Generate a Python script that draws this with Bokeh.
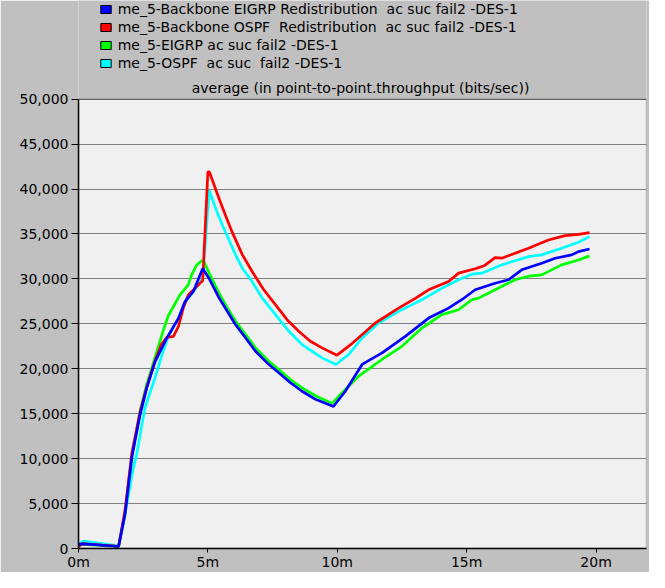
from bokeh.plotting import figure
from bokeh.models import (Legend, LegendItem, FixedTicker, NumeralTickFormatter, Range1d,
                          BoxAnnotation, Label)
from bokeh.embed import file_html
from bokeh.resources import INLINE

NAN = float("nan")

# ---- data (time in minutes, throughput in bits/sec) ----
blue_t = [0.0, 0.2, 1.55, 1.8, 2.06, 2.38, 2.64, 2.96, 3.41, 3.86, 4.12, 4.44, 4.8,
          5.04, 5.43, 5.75, 6.07, 6.46, 6.84, 7.29, 7.74, 8.19, 8.64, 9.16, 9.85,
          10.31, 10.96, 11.73, 12.63, 13.53, 14.3, 14.81, 15.33, 16.1, 16.62, 17.13,
          17.9, 18.42, 19.06, 19.32, 19.75]
blue_v = [450, 520, 220, 3850, 10100, 14900, 17900, 20800, 23400, 25600, 27500, 28600, 31150,
          30080, 27900, 26390, 24900, 23430, 21950, 20650, 19550, 18440, 17500, 16600, 15800,
          17500, 20480, 21760, 23600, 25640, 26750, 27680, 28790, 29520, 29900, 31010,
          31740, 32300, 32670, 33030, 33330]

red_t = [0.0, 0.15, 1.55, 1.8, 2.06, 2.38, 2.64, 2.96, 3.2, 3.41, 3.67, 3.86, 4.05, 4.24,
         4.69, 4.8, 5.0, 5.06, 5.43, 5.69, 5.94, 6.33, 6.71, 7.16, 7.61, 8.06, 8.51, 8.96,
         9.41, 9.99, 10.57, 11.0, 11.47, 12.37, 13.0, 13.53, 14.3, 14.69, 15.33, 15.7,
         16.1, 16.36, 16.87, 17.39, 18.16, 18.8, 19.32, 19.75]
red_v = [200, 550, 250, 4300, 10600, 15200, 18000, 20900, 22700, 23500, 23600, 24700, 26750, 28200,
         29500, 29800, 41900, 41900, 38950, 37000, 35200, 32700, 30820, 28790, 27130, 25460, 24170, 23060,
         22320, 21510, 22800, 23900, 25090, 26750, 27800, 28790, 29710, 30640, 31120, 31500,
         32370, 32300, 32850, 33400, 34330, 34810, 34960, 35140]

green_t = [0.0, 0.2, 1.55, 1.8, 2.06, 2.38, 2.64, 2.96, 3.09, 3.28, 3.47, 3.92, 4.24, 4.37,
           4.57, 4.75, 4.85, 5.04, 5.43, 5.75, 6.07, 6.46, 6.84, 7.29, 7.74, 8.19, 8.64, 9.16,
           9.8, 10.19, 10.83, 11.73, 12.5, 13.27, 14.04, 14.69, 15.2, 15.46, 16.1, 16.87,
           17.4, 17.9, 18.67, 19.32, 19.75]
green_v = [400, 460, 220, 4000, 10300, 15300, 18300, 21300, 22500, 24300, 25900, 28230, 29340, 30450,
           31560, 32000, 31930, 30700, 28420, 26800, 25280, 23800, 22320, 21000, 19920, 18800, 17880, 17000,
           16150, 17330, 19180, 21030, 22500, 24530, 26020, 26570, 27680, 27860, 28790, 29900,
           30300, 30450, 31560, 32110, 32560]

cyan_t = [0.0, 0.2, 1.55, 1.78, 2.12, 2.25, 2.57, 2.96, 3.2, 3.47, 3.86, 4.12, 4.44, 4.8,
          5.05, 5.3, 5.56, 6.07, 6.33, 6.71, 7.1, 7.61, 8.13, 8.64, 9.41, 9.95,
          10.44, 10.96, 11.6, 12.37, 13.27, 14.17, 14.69, 15.2, 15.59, 16.36, 17.39, 17.9,
          18.67, 19.32, 19.75]
cyan_v = [500, 820, 300, 3500, 9000, 10500, 15660, 19000, 21300, 23600, 25600, 27400, 28600, 30000,
          39880, 37840, 36000, 32670, 31190, 29710, 27860, 26020, 24170, 22690, 21210, 20480,
          21580, 23430, 25090, 26380, 27680, 29160, 29900, 30520, 30640, 31560, 32480, 32670,
          33400, 34070, 34700]

series_labels = [
    "me_5-Backbone EIGRP Redistribution  ac suc fail2 -DES-1",
    "me_5-Backbone OSPF  Redistribution  ac suc fail2 -DES-1",
    "me_5-EIGRP ac suc fail2 -DES-1",
    "me_5-OSPF  ac suc  fail2 -DES-1",
]
series_colors = ["#0000ff", "#ff0000", "#00ff00", "#00ffff"]

x_ticks = [0, 5, 10, 15, 20]
x_tick_labels = ["0m", "5m", "10m", "15m", "20m"]
y_ticks = list(range(0, 50001, 5000))
y_min, y_max = 0, 50000
x_min, x_max = 0, 21.95

chart_title = "average (in point-to-point.throughput (bits/sec))"

FONT = "DejaVu Sans"
GREY = "#c0c0c0"

W, H = 649, 572
BORDER_L, BORDER_R, BORDER_B = 78, 3, 22
FRAME_H = H - BORDER_B            # frame spans up to the top of the figure
PLOT_H = 451                      # pixel height of the 0..50,000 plotting area
FRAME_W = W - BORDER_L - BORDER_R

p = figure(width=W, height=H, output_backend="svg", toolbar_location=None,
           title_location=None,
           x_range=Range1d(x_min, x_max),
           y_range=Range1d(y_min, y_max * FRAME_H / PLOT_H),
           min_border_left=BORDER_L, min_border_right=BORDER_R,
           min_border_top=0, min_border_bottom=BORDER_B)

p.border_fill_color = GREY
p.background_fill_color = GREY
p.outline_line_color = None

# plotting area background and frame
p.add_layout(BoxAnnotation(left=x_min, right=x_max, bottom=y_min, top=y_max,
                           fill_color="#f0f0f0", fill_alpha=1, line_color=None, level="image"))
p.add_layout(BoxAnnotation(left=x_min, right=x_max, bottom=y_min, top=y_max,
                           fill_color=None, fill_alpha=0, line_color="#202020", line_width=1.5,
                           level="guide"))

p.xgrid.visible = False
p.ygrid.grid_line_color = "#808080"
p.ygrid.grid_line_width = 1
p.ygrid.ticker = FixedTicker(ticks=y_ticks)

p.xaxis.ticker = FixedTicker(ticks=x_ticks)
p.xaxis.major_label_overrides = {t: l for t, l in zip(x_ticks, x_tick_labels)}
p.yaxis.ticker = FixedTicker(ticks=y_ticks)
p.yaxis.formatter = NumeralTickFormatter(format="0,0")
p.yaxis.bounds = (y_min, y_max)

for ax in (p.xaxis[0], p.yaxis[0]):
    ax.axis_line_color = "#000000"
    ax.axis_line_width = 1.5
    ax.major_tick_line_color = "#000000"
    ax.minor_tick_line_color = None
    ax.major_tick_in = 0
    ax.major_label_text_font = FONT
    ax.major_label_text_font_size = "14px"
    ax.major_label_text_color = "#000000"
p.xaxis.major_tick_out = 4
p.xaxis.major_label_standoff = 1
p.yaxis.major_tick_out = 7
p.yaxis.major_label_standoff = 3

# lines (draw order: cyan, green, red, blue on top)
ts = [blue_t, red_t, green_t, cyan_t]
vs = [blue_v, red_v, green_v, cyan_v]
for i in [3, 2, 1, 0]:
    p.line(ts[i], vs[i], line_color=series_colors[i], line_width=2.7)

# title (above the plotting area)
p.add_layout(Label(x=FRAME_W / 2 - 2, y=PLOT_H + 10, x_units="screen", y_units="screen",
                   text=chart_title, text_align="center", text_baseline="middle",
                   text_font=FONT, text_font_size="14px", text_color="#000000"))

# legend swatches (filled boxes; the swatch renderers hold no visible mark)
items = []
for lab, col in zip(series_labels, series_colors):
    r = p.quad(left=[NAN], right=[NAN], top=[NAN], bottom=[NAN],
               fill_color=col, line_color="#000000", line_width=1)
    items.append(LegendItem(label=lab, renderers=[r], index=0))

legend = Legend(items=items, location=(20.7, FRAME_H - 74), orientation="vertical",
                padding=0, margin=0, spacing=0,
                glyph_width=13, glyph_height=10, label_height=18, label_standoff=6,
                label_text_font=FONT, label_text_font_size="14px", label_text_color="#000000",
                background_fill_alpha=0, border_line_alpha=0)
p.add_layout(legend, "center")

open("out.html", "w").write(file_html(p, INLINE))
